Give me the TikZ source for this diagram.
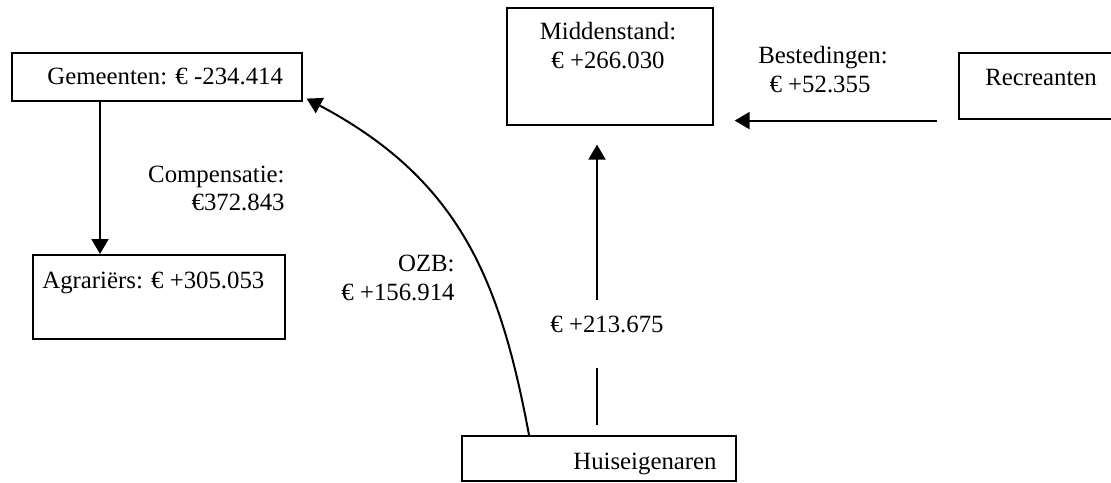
\documentclass[tikz,border=0pt]{standalone}
\usepackage{fontspec}
\setmainfont{Liberation Serif}
\usetikzlibrary{arrows.meta}
\begin{document}
\begin{tikzpicture}[x=0.5pt,y=-0.5pt,
  font=\fontsize{12.4pt}{14.5pt}\selectfont,
  box/.style={draw, line width=0.8pt, inner sep=0pt, anchor=north west},
  lbl/.style={inner sep=0pt},
  arr/.style={line width=1pt, -{Triangle[length=7.5pt,width=8.5pt]}},
  seg/.style={line width=1pt}]
\clip (0,0) rectangle (1111,482);
\fill[white] (0,0) rectangle (1111,482);
% boxes
\node[box, minimum width=145pt, minimum height=24pt] (gem) at (11,52) {};
\node[box, minimum width=126pt, minimum height=42pt] (agr) at (32,254) {};
\node[box, minimum width=103pt, minimum height=58.5pt] (mid) at (506,7) {};
\node[box, minimum width=85pt, minimum height=33pt] (rec) at (958,52) {};
\node[box, minimum width=137pt, minimum height=22.5pt] (hui) at (461,435) {};
% texts
\node[lbl, anchor=base west] (tgem) at (47,84) {Gemeenten: € -234.414};
\node[lbl, anchor=base west] (tagr) at (42,288) {Agrariërs: € +305.053};
\node[lbl, anchor=base] (tmid1) at (608,39) {Middenstand:};
\node[lbl, anchor=base] (tmid2) at (608,68) {€ +266.030};
\node[lbl, anchor=base] (trec) at (1041,85) {Recreanten};
\node[lbl, anchor=base east] (thui) at (717,469) {Huiseigenaren};
\node[lbl, anchor=base east] (tcomp1) at (285,182) {Compensatie:};
\node[lbl, anchor=base east] (tcomp2) at (285,210) {€372.843};
\node[lbl, anchor=base east] (tozb1) at (455,271) {OZB:};
\node[lbl, anchor=base east] (tozb2) at (455,300) {€ +156.914};
\node[lbl, anchor=base] (thm) at (607,332) {€ +213.675};
\node[lbl, anchor=base] (tbes1) at (823,63) {Bestedingen:};
\node[lbl, anchor=base] (tbes2) at (820,92) {€ +52.355};
% connectors
\draw[arr] ([xshift=44.5pt]gem.south west) -- ([xshift=34pt]agr.north west);
\draw[arr] ([xshift=34pt]hui.north west) .. controls (500,280) and (460,180) .. ([shift={(2pt,1.5pt)}]gem.south east);
\coordinate (h1) at (597,425);
\coordinate (h2) at (597,368);
\coordinate (h3) at (597,300);
\draw[seg] (h1) -- (h2);
\draw[arr] (h3) -- ([shift={(45.5pt,-9.5pt)}]mid.south west);
\draw[arr] ([shift={(-10.5pt,-0.5pt)}]rec.south west) -- ([shift={(10.5pt,2.5pt)}]mid.south east);
\end{tikzpicture}
\end{document}
